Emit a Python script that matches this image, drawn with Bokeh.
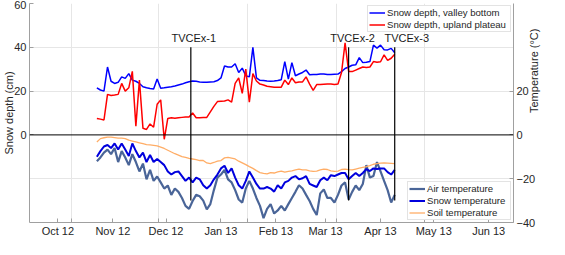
import math
import pandas as pd
from bokeh.plotting import figure
from bokeh.models import (Range1d, LinearAxis, FixedTicker, DatetimeTickFormatter,
                          Span, Legend, LegendItem)
from bokeh.core.properties import value
from bokeh.embed import file_html
from bokeh.resources import INLINE

# ---------------- data ----------------
start_date = "2012-10-23"
n_samples = 85          # one sample every 2 days, Oct 23 2012 .. Apr 9 2013

valley_depth = [21.5, 20.5, 20.0, 31.0, 24.5, 23.5, 24.0, 26.5, 25.8, 28.0,
                25.0, 24.5, 23.5, 22.0, 21.5, 21.2, 21.0, 25.5, 21.3, 21.5,
                21.8, 22.0, 22.3, 22.8, 23.2, 23.8, 24.3, 24.6, 24.5, 24.2,
                24.0, 24.0, 24.2, 24.3, 24.8, 26.0, 31.5, 31.0, 31.0, 32.5,
                28.5, 30.5, 27.0, 26.5, 40.0, 26.0, 24.9, 24.8, 24.6, 24.5,
                24.6, 24.8, 25.2, 33.5, 25.5, 33.0, 27.0, 27.8, 28.5, 29.6,
                27.5, 27.6, 27.6, 27.8, 27.8, 27.6, 27.6, 27.7, 27.8, 28.9,
                30.3, 31.0, 31.8, 32.0, 35.3, 33.0, 33.2, 33.5, 41.0, 39.6,
                41.0, 38.9, 38.8, 39.5, 37.5]

upland_depth = [7.5, 7.2, 6.8, 18.5, 18.0, 18.2, 18.5, 23.5, 20.0, 21.5,
                29.0, 4.0, 25.0, 3.0, 2.5, 5.0, 3.5, 14.0, 16.0, -2.0,
                7.5, 7.8, 7.6, 7.8, 8.0, 8.2, 8.2, 10.0, 7.8, 7.8,
                7.9, 8.0, 10.5, 13.0, 15.2, 15.4, 15.5, 16.0, 15.0, 23.5,
                26.0, 19.0, 30.0, 15.0, 28.0, 24.6, 23.2, 22.8, 22.2, 22.0,
                21.8, 21.8, 21.8, 25.0, 23.0, 26.0, 23.8, 24.2, 24.2, 26.5,
                23.2, 20.3, 23.0, 23.0, 23.1, 23.2, 23.2, 23.0, 23.2, 28.5,
                42.0, 29.0, 28.9, 29.6, 30.3, 31.0, 30.8, 31.0, 33.5, 33.2,
                33.4, 36.5, 34.0, 35.0, 36.8]

air_temp = [-12.0, -10.3, -8.1, -6.7, -8.8, -6.0, -12.4, -7.4, -10.3, -13.8,
            -8.8, -12.4, -16.7, -13.1, -20.3, -16.0, -21.0, -19.0, -21.7, -24.5,
            -23.1, -27.4, -24.5, -26.0, -28.8, -32.4, -33.8, -30.2, -27.4, -28.0,
            -30.0, -34.0, -31.6, -25.2, -19.5, -18.1, -16.0, -20.3, -21.7, -25.2,
            -29.5, -30.9, -24.5, -21.0, -24.5, -28.8, -32.4, -38.0, -33.8, -31.6,
            -35.9, -34.5, -32.4, -34.5, -31.6, -28.8, -26.0, -23.0, -24.5, -27.4,
            -30.2, -33.8, -36.6, -26.7, -24.9, -28.8, -28.8, -30.9, -27.4, -23.1,
            -21.7, -29.5, -26.0, -23.1, -25.2, -22.4, -13.8, -19.5, -18.8, -12.4,
            -16.7, -21.0, -25.2, -30.9, -27.4]

snow_temp = [-10.0, -7.4, -5.3, -4.6, -6.0, -3.9, -6.7, -3.9, -6.7, -9.6,
             -3.9, -7.4, -10.3, -8.1, -12.4, -9.2, -12.4, -11.0, -12.4, -13.8,
             -16.7, -18.1, -17.0, -16.7, -18.8, -21.0, -19.5, -21.7, -19.5, -20.3,
             -23.0, -24.5, -23.0, -20.3, -18.1, -15.3, -14.1, -17.4, -15.3, -19.5,
             -23.0, -24.5, -21.0, -16.7, -19.5, -22.4, -24.5, -24.5, -23.8, -24.5,
             -25.9, -23.0, -24.5, -21.7, -21.0, -19.5, -18.8, -20.3, -19.8, -18.8,
             -22.4, -23.1, -23.8, -20.7, -19.5, -20.7, -18.4, -18.8, -18.1, -17.4,
             -17.4, -20.3, -18.8, -17.4, -18.8, -17.4, -15.6, -16.5, -15.3, -15.6,
             -15.3, -15.3, -17.0, -18.1, -16.0]

soil_temp = [-3.2, -1.7, -1.3, -1.0, -1.0, -1.2, -1.5, -1.5, -1.7, -2.4,
             -2.8, -3.2, -3.6, -4.0, -4.4, -4.6, -4.8, -5.0, -5.6, -6.2,
             -7.0, -7.8, -8.6, -9.2, -9.9, -10.3, -10.7, -11.0, -11.3, -11.7,
             -11.7, -12.8, -13.1, -12.6, -12.0, -11.7, -10.5, -10.3, -10.6, -11.0,
             -12.0, -12.8, -13.6, -14.5, -15.3, -16.3, -17.2, -17.6, -17.8, -17.2,
             -17.4, -16.9, -16.5, -17.0, -16.7, -16.4, -16.0, -15.6, -16.0, -16.0,
             -16.4, -16.7, -16.5, -16.0, -15.6, -15.8, -16.4, -16.7, -16.5, -15.8,
             -15.6, -15.9, -16.0, -15.6, -15.2, -14.8, -14.5, -14.0, -13.4, -13.1,
             -12.9, -12.8, -12.9, -13.0, -13.1]

campaign_names = ["TVCEx-1", "TVCEx-2", "TVCEx-3"]
campaign_dates = ["2012-12-15", "2013-03-14", "2013-04-09"]
campaign_top = [40, 40, 40]
campaign_bottom = [-30, -30, -30]
campaign_label_y = [41.5, 41.5, 41.5]
campaign_label_shift = [3, 4, 12]   # px, labels nudged right as in the original

month_ticks = ["2012-10-01", "2012-11-01", "2012-12-01", "2013-01-01", "2013-02-01",
               "2013-03-01", "2013-04-01", "2013-05-01", "2013-06-01"]
grid_ticks = ["2012-10-08 12:00", "2012-11-27", "2013-01-16", "2013-03-07", "2013-04-26"]
depth_ticks = [0, 20, 40, 60]
temp_ticks = [-40, -20, 0, 20]
hgrid_ticks = [-20, 20, 40]
x_start, x_end = "2012-09-15", "2013-06-15"
y_min, y_max = -40, 60


def ms(vals):
    return [pd.Timestamp(v).timestamp() * 1000.0 for v in vals]


dates = pd.date_range(start_date, periods=n_samples, freq="2D")

FONT = "Liberation Sans"
AX = "#a0a0a0"
TXT = "#262626"

p = figure(width=549, height=239, output_backend="svg", toolbar_location=None,
           x_axis_type="datetime",
           x_range=Range1d(*ms([x_start, x_end])), y_range=Range1d(y_min, y_max),
           min_border_left=0, min_border_right=0, min_border_top=3, min_border_bottom=0)
p.extra_y_ranges = {"temp": Range1d(y_min, y_max)}
p.outline_line_color = None
p.background_fill_color = "white"
p.border_fill_color = "white"

# grids
p.xgrid.ticker = FixedTicker(ticks=ms(month_ticks), minor_ticks=ms(grid_ticks))
p.xgrid.grid_line_color = None
p.xgrid.minor_grid_line_color = "#e6e6e6"
p.ygrid.ticker = FixedTicker(ticks=hgrid_ticks)
p.ygrid.grid_line_color = "#e6e6e6"

# axes styling
def style_axis(ax):
    ax.axis_line_color = AX
    ax.major_tick_line_color = AX
    ax.minor_tick_line_color = AX
    ax.major_tick_in = 4
    ax.major_tick_out = 0
    ax.minor_tick_in = 4
    ax.minor_tick_out = 0
    ax.major_label_text_font = FONT
    ax.major_label_text_font_size = "11px"
    ax.major_label_text_color = TXT
    ax.axis_label_text_font = FONT
    ax.axis_label_text_font_size = "11px"
    ax.axis_label_text_font_style = "normal"
    ax.axis_label_text_color = TXT
    ax.axis_label_standoff = -4
    ax.major_label_standoff = 3

xa = p.xaxis[0]
style_axis(xa)
xa.axis_label = None
xa.major_label_standoff = 2
xa.ticker = FixedTicker(ticks=ms(month_ticks), minor_ticks=ms(grid_ticks))
fmt = "%b %y"
xa.formatter = DatetimeTickFormatter(years=fmt, months=fmt, days=fmt, hours=fmt,
                                     hourmin=fmt, minutes=fmt, minsec=fmt,
                                     seconds=fmt, milliseconds=fmt, microseconds=fmt)

ya = p.yaxis[0]
style_axis(ya)
ya.ticker = FixedTicker(ticks=depth_ticks)
ya.axis_label = "Snow depth (cm)"

yr = LinearAxis(y_range_name="temp", ticker=FixedTicker(ticks=temp_ticks),
                axis_label="Temperature (\u00b0C)")
style_axis(yr)
yr.axis_label_orientation = math.pi / 2
p.add_layout(yr, "right")

# zero line
p.add_layout(Span(location=0, dimension="width", line_color="black", line_width=1))

# snow depth
r_valley = p.line(dates, valley_depth, line_color="#0000ff", line_width=1.5)
r_upland = p.line(dates, upland_depth, line_color="#ff0000", line_width=1.5)

# temperatures
r_air = p.line(dates, air_temp, line_color="#4a6598", line_width=2.2, y_range_name="temp")
r_snow = p.line(dates, snow_temp, line_color="#0000dd", line_width=2, y_range_name="temp")
r_soil = p.line(dates, soil_temp, line_color="#ffad66", line_width=1.3, y_range_name="temp")

# campaign markers
cd = pd.to_datetime(campaign_dates)
p.segment(x0=cd, y0=campaign_top, x1=cd, y1=campaign_bottom, line_color="black", line_width=1.2)
p.text(x=cd, y=campaign_label_y, text=campaign_names, x_offset=campaign_label_shift,
       text_align="center", text_baseline="bottom", text_font=value(FONT),
       text_font_size="11px", text_color="#1a1a1a")

def make_legend(items, loc, lw):
    lg = Legend(items=items, location=loc, margin=2)
    lg.label_text_font = FONT
    lg.label_text_font_size = "9.6px"
    lg.label_text_color = TXT
    lg.label_height = 11
    lg.glyph_height = 11
    lg.glyph_width = 16
    lg.label_width = lw
    lg.label_standoff = 2
    lg.spacing = 1
    lg.padding = 1
    lg.border_line_color = "#c8c8c8"
    lg.background_fill_alpha = 1.0
    return lg

leg1 = make_legend([LegendItem(label="Snow depth, valley bottom", renderers=[r_valley]),
                    LegendItem(label="Snow depth, upland plateau", renderers=[r_upland])],
                   "top_right", 122)
leg2 = make_legend([LegendItem(label="Air temperature", renderers=[r_air]),
                    LegendItem(label="Snow temperature", renderers=[r_snow]),
                    LegendItem(label="Soil temperature", renderers=[r_soil])],
                   "bottom_right", 82)
p.add_layout(leg1)
p.add_layout(leg2)

open("out.html", "w").write(file_html(p, INLINE))
